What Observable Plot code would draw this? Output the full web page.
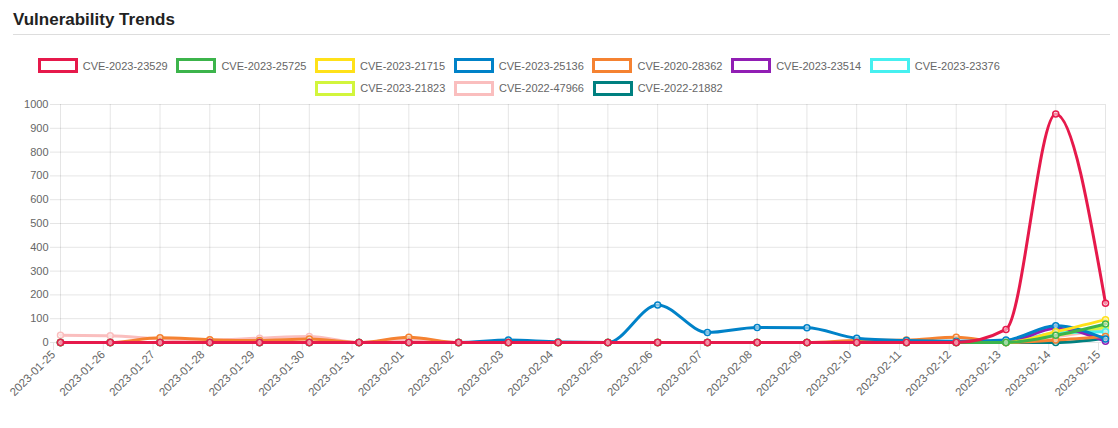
<!DOCTYPE html>
<html><head><meta charset="utf-8">
<script src="https://cdn.jsdelivr.net/npm/d3@7"></script>
<script src="https://cdn.jsdelivr.net/npm/@observablehq/plot@0.6"></script>
<style>
body{margin:0;background:#fff;font-family:"Liberation Sans",Arial,sans-serif;width:1118px;height:428px;position:relative;overflow:hidden}
#title{position:absolute;left:13px;top:10px;font-size:17px;font-weight:bold;line-height:20px;color:#222}
#rule{position:absolute;left:13px;top:34px;width:1097px;height:1px;background:#ddd}
.row{position:absolute;display:flex}
.item{width:138.7px;display:flex;align-items:center;font-size:11px;color:#666;height:15px;white-space:nowrap}
.box{width:34px;height:9px;border:3px solid;margin-right:5px;background:#fff;flex:none}
#chart{position:absolute;left:0;top:96px}
</style></head><body>
<div id="title">Vulnerability Trends</div>
<div id="rule"></div>
<div class="row" id="row1" style="left:37.7px;top:58.3px"></div>
<div class="row" id="row2" style="left:315.3px;top:80.7px"></div>
<div id="chart"></div>
<script>
const dates = ["2023-01-25","2023-01-26","2023-01-27","2023-01-28","2023-01-29","2023-01-30","2023-01-31","2023-02-01","2023-02-02","2023-02-03","2023-02-04","2023-02-05","2023-02-06","2023-02-07","2023-02-08","2023-02-09","2023-02-10","2023-02-11","2023-02-12","2023-02-13","2023-02-14","2023-02-15"];
const seriesNames = ["CVE-2023-23529","CVE-2023-25725","CVE-2023-21715","CVE-2023-25136","CVE-2020-28362","CVE-2023-23514","CVE-2023-23376","CVE-2023-21823","CVE-2022-47966","CVE-2022-21882"];
const seriesColors = ["#e6194b","#3cb44b","#ffe119","#0082c8","#f58231","#911eb4","#46f0f0","#d2f53c","#fabebe","#008080"];
const cve_2023_23529 = [0,0,0,0,0,0,0,0,0,0,0,0,0,0,0,0,0,0,0,55,960,165];
const cve_2023_25725 = [0,0,0,0,0,0,0,0,0,0,0,0,0,0,0,0,0,0,0,0,30,78];
const cve_2023_21715 = [0,0,0,0,0,0,0,0,0,0,0,0,0,0,0,0,0,0,0,0,45,96];
const cve_2023_25136 = [0,0,0,0,0,0,0,0,0,10,2,0,158,42,63,62,18,8,5,10,70,15];
const cve_2020_28362 = [0,0,20,12,8,15,0,22,0,0,0,0,0,0,0,0,8,10,22,0,10,25];
const cve_2023_23514 = [0,0,0,0,0,0,0,0,0,0,0,0,0,0,0,0,0,0,0,0,60,5];
const cve_2023_23376 = [0,0,0,0,0,0,0,0,0,0,0,0,0,0,0,0,0,0,0,0,40,45];
const cve_2023_21823 = [0,0,0,0,0,0,0,0,0,0,0,0,0,0,0,0,0,0,0,0,30,65];
const cve_2022_47966 = [30,28,15,10,18,25,0,12,0,0,0,0,0,0,0,0,0,0,0,0,25,55];
const cve_2022_21882 = [0,0,0,0,0,0,0,0,0,0,0,0,0,0,0,0,0,0,0,0,0,18];
const seriesValues = [cve_2023_23529,cve_2023_25725,cve_2023_21715,cve_2023_25136,cve_2020_28362,cve_2023_23514,cve_2023_23376,cve_2023_21823,cve_2022_47966,cve_2022_21882];
const yTicks = [0,100,200,300,400,500,600,700,800,900,1000];

// legend
seriesNames.forEach((name, i) => {
  const item = document.createElement("div");
  item.className = "item";
  item.innerHTML = `<div class="box" style="border-color:${seriesColors[i]}"></div><span>${name}</span>`;
  document.getElementById(i < 7 ? "row1" : "row2").appendChild(item);
});

const marks = [];
for (let i = seriesNames.length - 1; i >= 0; i--) {
  const data = dates.map((d, j) => ({date: d, value: seriesValues[i][j]}));
  marks.push(Plot.line(data, {x: "date", y: "value", stroke: seriesColors[i], strokeWidth: 3, curve: "monotone-x"}));
  marks.push(Plot.dot(data, {x: "date", y: "value", stroke: seriesColors[i], fill: "white", fillOpacity: 0.5, r: 3, strokeWidth: 1.5}));
}

const chart = Plot.plot({
  width: 1118,
  height: 330,
  marginTop: 8,
  marginBottom: 84,
  marginLeft: 60,
  marginRight: 13,
  style: {fontFamily: "'Liberation Sans', Arial, sans-serif", fontSize: "11px", color: "#666", background: "white"},
  x: {type: "point", domain: dates, padding: 0, round: false},
  y: {domain: [0, 1000]},
  marks: [
    Plot.gridX(dates, {stroke: "#000", strokeOpacity: 0.1, strokeWidth: 1}),
    Plot.gridY(yTicks, {stroke: "#000", strokeOpacity: 0.1, strokeWidth: 1}),
    Plot.axisX(dates, {tickRotate: -45, tickSize: 8, tickPadding: 2, dx: -7, stroke: "#e5e5e5", fill: "#666", fontSize: 11.5, label: null}),
    Plot.axisY(yTicks, {tickSize: 10, tickPadding: 2, stroke: "#e5e5e5", fill: "#666", tickFormat: d => String(d), label: null}),
    ...marks
  ]
});
document.getElementById("chart").appendChild(chart);
</script>
</body></html>
